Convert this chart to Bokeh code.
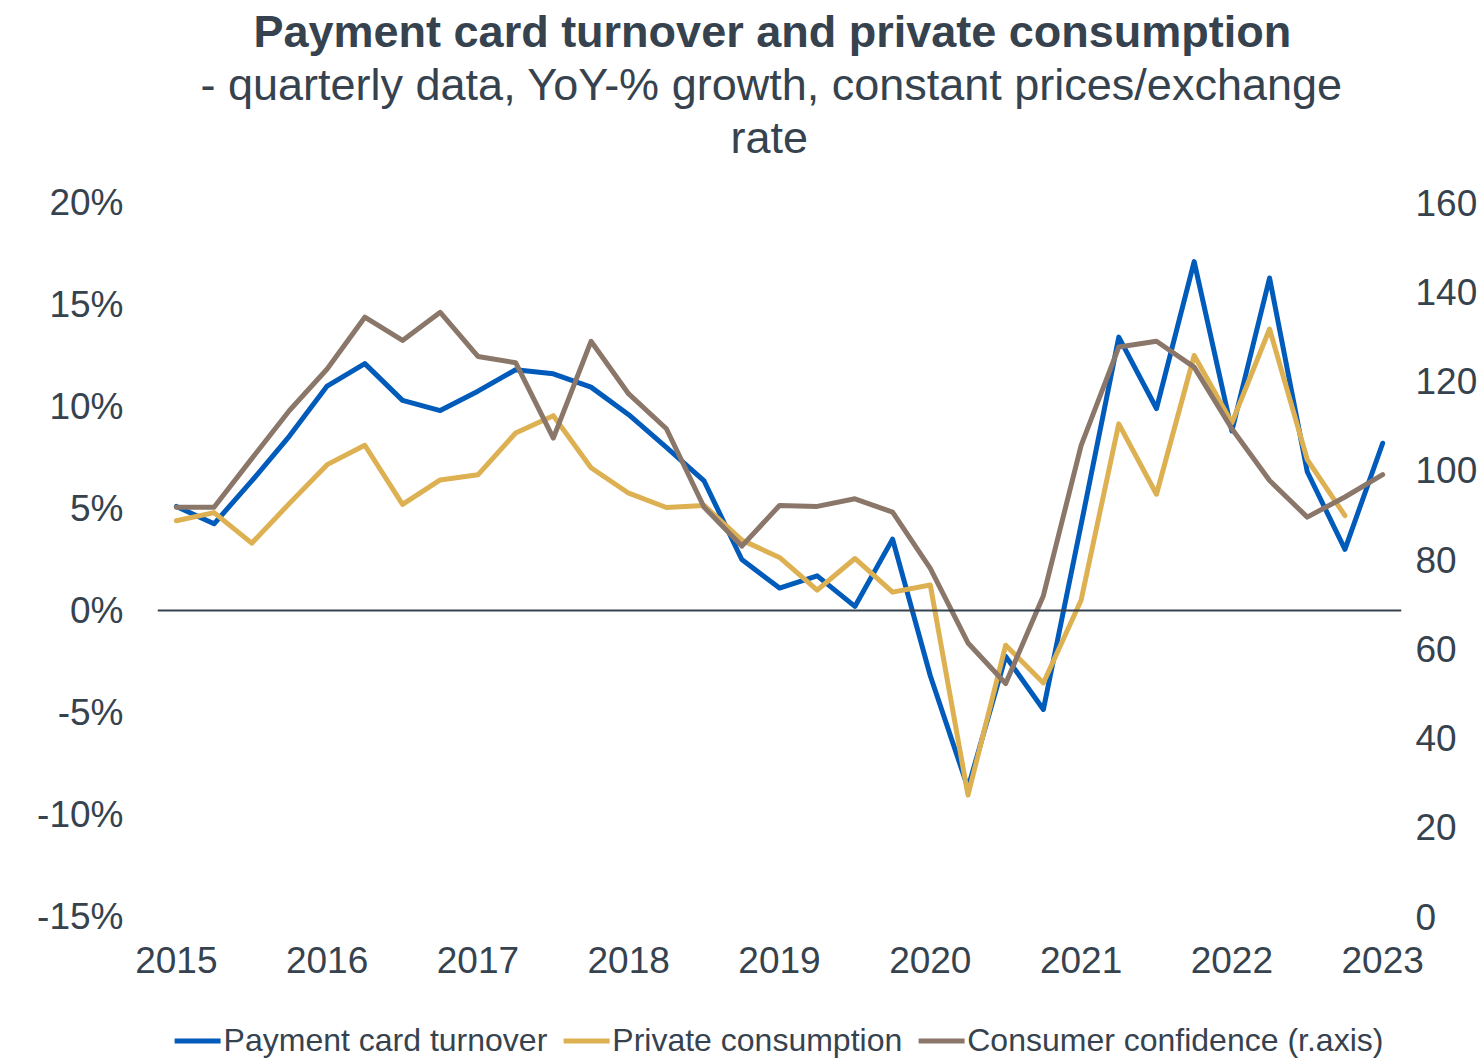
import numpy as np
from bokeh.plotting import figure
from bokeh.layouts import column
from bokeh.models import Range1d, LinearAxis, FixedTicker, Span, Legend, LegendItem, Title
from bokeh.embed import file_html
from bokeh.resources import INLINE

# ---- data (quarterly, 2015Q1 .. 2023Q1) ----
years = ["2015", "2016", "2017", "2018", "2019", "2020", "2021", "2022", "2023"]
quarters = [f"{y}Q{q}" for y in years for q in (1, 2, 3, 4)][:33]

card_turnover = [5.1, 4.25, 6.35, 8.55, 11.0, 12.1, 10.3, 9.8, 10.75, 11.8, 11.6, 10.95,
                 9.6, 8.0, 6.35, 2.5, 1.1, 1.7, 0.2, 3.5, -3.2, -8.7, -2.25, -4.85,
                 4.2, 13.4, 9.9, 17.1, 8.8, 16.3, 6.8, 3.0, 8.2]
private_consumption = [4.4, 4.8, 3.3, 5.25, 7.15, 8.1, 5.2, 6.4, 6.65, 8.7, 9.55, 7.0,
                       5.75, 5.05, 5.15, 3.45, 2.6, 1.0, 2.55, 0.9, 1.25, -9.05, -1.7, -3.55,
                       0.5, 9.15, 5.7, 12.5, 9.2, 13.8, 7.4, 4.65, np.nan]
consumer_confidence = [91.7, 91.7, 102.6, 113.4, 122.7, 134.3, 129.1, 135.4, 125.5, 124.1, 107.2, 128.9,
                       117.1, 109.3, 91.7, 83.0, 92.1, 91.9, 93.6, 90.6, 78.0, 61.3, 52.2, 71.9,
                       105.5, 127.6, 128.9, 123.1, 109.3, 97.7, 89.5, 94.0, 99.0]

left_ticks = [-15, -10, -5, 0, 5, 10, 15, 20]
left_labels = ["-15%", "-10%", "-5%", "0%", "5%", "10%", "15%", "20%"]
right_ticks = [0, 20, 40, 60, 80, 100, 120, 140, 160]

series_names = ["Payment card turnover", "Private consumption", "Consumer confidence (r.axis)"]
title_text = "Payment card turnover and private consumption"
subtitle_1 = "- quarterly data, YoY-% growth, constant prices/exchange"
subtitle_2 = "rate"

# ---- styles ----
TXT = "#36434F"
BLUE = "#005BBB"
GOLD = "#DDB052"
BROWN = "#8B7769"
COLORS = [BLUE, GOLD, BROWN]
FONT = "Liberation Sans"

x = np.arange(len(quarters))
series = [card_turnover, private_consumption, consumer_confidence]

p = figure(width=1480, height=1020,
           x_range=Range1d(-0.5, len(quarters) - 0.5),
           y_range=Range1d(-15, 20),
           output_backend="svg", toolbar_location=None,
           min_border_left=157, min_border_right=75,
           min_border_top=202, min_border_bottom=104)
p.extra_y_ranges = {"conf": Range1d(0, 160)}
x_axis = p.below[0]
y_axis = p.left[0]

p.xgrid.visible = False
p.ygrid.visible = False
p.outline_line_color = None
p.background_fill_color = "white"
p.border_fill_color = "white"

# ---- titles (p.above stacks from the frame outward; p.title is outermost) ----
p.title.text = title_text
p.title.align = "left"
p.title.offset = 96
p.title.text_font = FONT
p.title.text_font_size = "45px"
p.title.text_font_style = "bold"
p.title.text_color = TXT
p.title.standoff = 0

# blank spacer line keeping a gap between the titles and the plot area
p.add_layout(Title(text=" ", text_font=FONT, text_font_size="10px", text_color=TXT,
                   standoff=27), "above")
p.add_layout(Title(text=subtitle_2, align="left", offset=573, text_font=FONT,
                   text_font_size="45px", text_font_style="normal", text_color=TXT,
                   standoff=0), "above")
p.add_layout(Title(text=subtitle_1, align="left", offset=43, text_font=FONT,
                   text_font_size="45px", text_font_style="normal", text_color=TXT,
                   standoff=0), "above")

# zero line
p.add_layout(Span(location=0, dimension="width", line_color=TXT, line_width=2))

# series
r1 = p.line(x, card_turnover, line_color=BLUE, line_width=5, line_join="round", line_cap="round")
r2 = p.line(x, private_consumption, line_color=GOLD, line_width=5, line_join="round", line_cap="round")
r3 = p.line(x, consumer_confidence, line_color=BROWN, line_width=5, line_join="round", line_cap="round",
            y_range_name="conf")

def style_axis(ax, standoff):
    ax.axis_line_color = None
    ax.major_tick_line_color = None
    ax.minor_tick_line_color = None
    ax.major_tick_in = 0
    ax.major_tick_out = 0
    ax.major_label_standoff = standoff
    ax.major_label_text_font = FONT
    ax.major_label_text_font_size = "37px"
    ax.major_label_text_color = TXT

# x axis: label at Q1 of each year
year_pos = [quarters.index(f"{y}Q1") for y in years]
x_axis.ticker = FixedTicker(ticks=year_pos)
x_axis.major_label_overrides = {pos: y for pos, y in zip(year_pos, years)}
style_axis(x_axis, 30)

y_axis.ticker = FixedTicker(ticks=left_ticks)
y_axis.major_label_overrides = {t: l for t, l in zip(left_ticks, left_labels)}
style_axis(y_axis, 34)

right_axis = LinearAxis(y_range_name="conf", ticker=FixedTicker(ticks=right_ticks))
style_axis(right_axis, 14)
p.add_layout(right_axis, "right")

# ---- legend strip (separate figure under the chart) ----
leg = figure(width=1480, height=40, x_range=Range1d(0, 1), y_range=Range1d(1000, 1001),
             output_backend="svg", toolbar_location=None, min_border=0,
             x_axis_location=None, y_axis_location=None)
leg.xgrid.visible = False
leg.ygrid.visible = False
leg.outline_line_color = None
leg.background_fill_color = "white"
leg.border_fill_color = "white"
# proxy renderers carrying the same series (out of this strip's range, so only the legend shows)
proxies = [leg.line(x, s, line_color=c, line_width=5, line_cap="round") for s, c in zip(series, COLORS)]

legend = Legend(items=[LegendItem(label=n, renderers=[r]) for n, r in zip(series_names, proxies)],
                orientation="horizontal", location="center",
                glyph_width=46, glyph_height=16, label_standoff=3, spacing=16,
                padding=0, margin=0, border_line_color=None, background_fill_alpha=0,
                label_text_font=FONT, label_text_font_size="32px", label_text_color=TXT)
leg.add_layout(legend)

layout = column(p, leg, spacing=0)

open("out.html", "w").write(file_html(layout, INLINE))
